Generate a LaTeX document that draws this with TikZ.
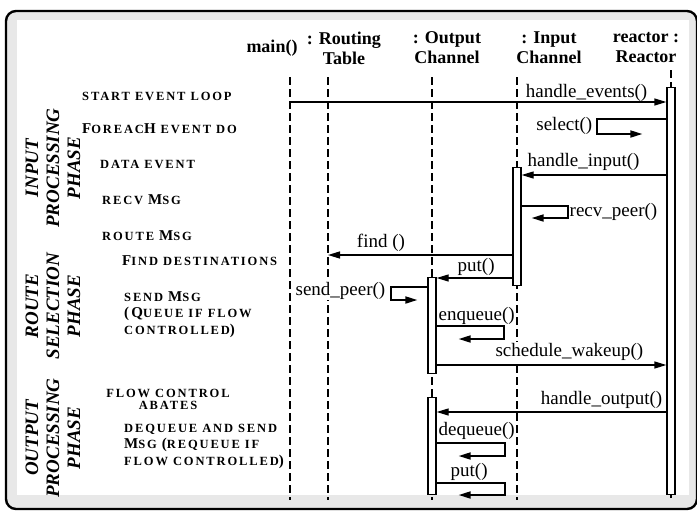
\documentclass[tikz,border=0pt]{standalone}
\usepackage{fontspec}
\setmainfont{Liberation Serif}
\newfontfamily\stepfamily{Liberation Serif}[LetterSpace=15]
\usetikzlibrary{arrows.meta,positioning}
\definecolor{ink}{HTML}{000000}
\definecolor{bandGray}{HTML}{E8E8E8}
\newcommand{\tallcap}[1]{{\fontsize{15}{15}\selectfont #1}}
\tikzset{
  frame box/.style={
    draw=ink,
    fill=bandGray,
    rounded corners=10pt,
    line width=2.4pt
  },
  object head/.style={
    font=\fontsize{18}{20}\selectfont\bfseries,
    align=center,
    inner sep=0pt,
    text=ink
  },
  phase label/.style={
    font=\fontsize{19}{21}\selectfont\bfseries\itshape,
    align=center,
    rotate=90,
    inner sep=0pt,
    text=ink
  },
  step label/.style={
    font=\stepfamily\fontsize{12.5}{16.5}\selectfont\bfseries,
    align=left,
    inner sep=0pt,
    text=ink
  },
  lifeline/.style={
    draw=ink,
    line width=1.1pt,
    dash pattern=on 8pt off 4pt
  },
  activation/.style={
    draw=ink,
    fill=white,
    line width=1.3pt,
    minimum width=8pt,
    inner sep=0pt,
    anchor=north
  },
  message/.style={
    -{Triangle[length=12pt,width=7pt]},
    draw=ink,
    line width=1.3pt
  },
  self call/.style={
    message,
    line width=1.8pt
  },
  call label/.style={
    font=\fontsize{19}{21}\selectfont,
    fill=white,
    inner sep=0.5pt,
    text=ink
  }
}

\begin{document}
\begin{tikzpicture}[x=1pt,y=-1pt]
  \useasboundingbox (0,0) rectangle (697,512);
  \draw[frame box] (6,11) rectangle (697,509);
  \fill[white] (17,20) rectangle (689,495);

  \node[object head] (main-head) at (272,48) {main()};
  \node[object head] (routing-head) at (344,48) {: Routing\\Table};
  \node[object head] (output-head) at (447,48) {: Output\\Channel};
  \node[object head] (input-head) at (549,48) {: Input\\Channel};
  \node[object head] (reactor-head) at (646,48) {reactor :\\Reactor};

  \node[phase label] (input-phase) at (53,168) {INPUT\\PROCESSING\\PHASE};
  \node[phase label] (route-phase) at (53,306) {ROUTE\\SELECTION\\PHASE};
  \node[phase label] (output-phase) at (53,438) {OUTPUT\\PROCESSING\\PHASE};

  \node[step label,anchor=base west] (start-loop) at (82,100) {START EVENT LOOP};
  \node[step label,anchor=base west] (foreach) at (82,133) {\tallcap{F}OREAC\tallcap{H} EVENT DO};
  \node[step label,anchor=base west] (data-event) at (100,168) {DATA EVENT};
  \node[step label,anchor=base west] (recv-msg) at (102,204) {RECV \tallcap{M}SG};
  \node[step label,anchor=base west] (route-msg) at (102,240) {ROUTE \tallcap{M}SG};
  \node[step label,anchor=base west] (find-dest) at (122,265) {\tallcap{F}IND DESTINATIONS};
  \node[step label,anchor=base west] (send-msg) at (124,334) {
    SEND \tallcap{M}SG\\
    \tallcap{(Q}UEUE IF FLOW\\
    CONTROLLED\tallcap{)}
  };
  \node[step label,align=center,anchor=base] (flow-abates) at (168,409) {
    FLOW CONTROL\\[-4.5pt]
    ABATES
  };
  \node[step label,anchor=base west] (dequeue-send) at (124,465) {
    DEQUEUE AND SEND\\
    \tallcap{M}SG \tallcap{(}REQUEUE IF\\
    FLOW CONTROLLED\tallcap{)}
  };

  \coordinate (main-top) at (290,77);
  \coordinate (main-bottom) at (290,500);
  \coordinate (routing-top) at (328,77);
  \coordinate (routing-bottom) at (328,500);
  \coordinate (output-top) at (432,77);
  \coordinate (output-bottom) at (432,500);
  \coordinate (input-top) at (517,77);
  \coordinate (input-bottom) at (517,500);
  \coordinate (reactor-top) at (671,70);
  \coordinate (reactor-bottom) at (671,500);
  \draw[lifeline] (main-top) -- (main-bottom);
  \draw[lifeline] (routing-top) -- (routing-bottom);
  \draw[lifeline] (output-top) -- (output-bottom);
  \draw[lifeline] (input-top) -- (input-bottom);
  \draw[lifeline] (reactor-top) -- (reactor-bottom);

  \node[call label,anchor=base east] (events-label) at (648,97) {handle\_events()};
  \node[call label,anchor=base east] (select-label) at (593,130) {select()};
  \node[call label,anchor=base west] (input-label) at (527,166) {handle\_input()};
  \node[call label,anchor=base west] (recv-label) at (569,216) {recv\_peer()};
  \node[call label,anchor=base] (find-label) at (381,247) {find ()};
  \node[call label,anchor=base west] (put-label) at (457,271) {put()};
  \node[call label,anchor=base east] (send-label) at (386,295) {send\_peer()};
  \node[call label,anchor=base west] (enqueue-label) at (438,320) {enqueue()};
  \node[call label,anchor=base east] (wakeup-label) at (644,356) {schedule\_wakeup()};
  \node[call label,anchor=base east] (output-label) at (663,404) {handle\_output()};
  \node[call label,anchor=base west] (dequeue-label) at (438,435) {dequeue()};
  \node[call label,anchor=base west] (put-self-label) at (450,476) {put()};

  \node[activation,minimum height=407] (reactor-act) at (671,87) {};
  \node[activation,minimum height=118] (input-act) at (517,167) {};
  \node[activation,minimum height=96] (output-act-1) at (432,277) {};
  \node[activation,minimum height=97] (output-act-2) at (432,397) {};

  \coordinate (row-events) at (0,102);
  \coordinate (row-select) at (0,119);
  \coordinate (row-input) at (0,175);
  \coordinate (row-recv) at (0,206);
  \coordinate (row-find) at (0,255);
  \coordinate (row-put) at (0,278);
  \coordinate (row-send) at (0,287);
  \coordinate (row-enqueue) at (0,326);
  \coordinate (row-wakeup) at (0,365);
  \coordinate (row-output) at (0,412);
  \coordinate (row-dequeue) at (0,443);
  \coordinate (row-put-self) at (0,483);

  \draw[message] (main-top |- row-events) -- (reactor-act.west |- row-events);
  \draw[self call] (reactor-act.west |- row-select) -- ++(-69,0) -- ++(0,15) -- ++(45,0);
  \draw[message] (reactor-act.west |- row-input) -- (input-act.east |- row-input);
  \draw[self call] (input-act.east |- row-recv) -- ++(46,0) -- ++(0,12) -- ++(-36,0);
  \draw[message] (input-act.west |- row-find) -- (routing-top |- row-find);
  \draw[message] (input-act.west |- row-put) -- (output-act-1.east |- row-put);
  \draw[self call] (output-act-1.west |- row-send) -- ++(-36,0) -- ++(0,13) -- ++(26,0);
  \draw[self call] (output-act-1.east |- row-enqueue) -- ++(67,0) -- ++(0,13) -- ++(-45,0);
  \draw[message] (output-act-1.east |- row-wakeup) -- (reactor-act.west |- row-wakeup);
  \draw[message] (reactor-act.west |- row-output) -- (output-act-2.east |- row-output);
  \draw[self call] (output-act-2.east |- row-dequeue) -- ++(68,0) -- ++(0,13) -- ++(-46,0);
  \draw[self call] (output-act-2.east |- row-put-self) -- ++(68,0) -- ++(0,12) -- ++(-46,0);
\end{tikzpicture}
\end{document}
